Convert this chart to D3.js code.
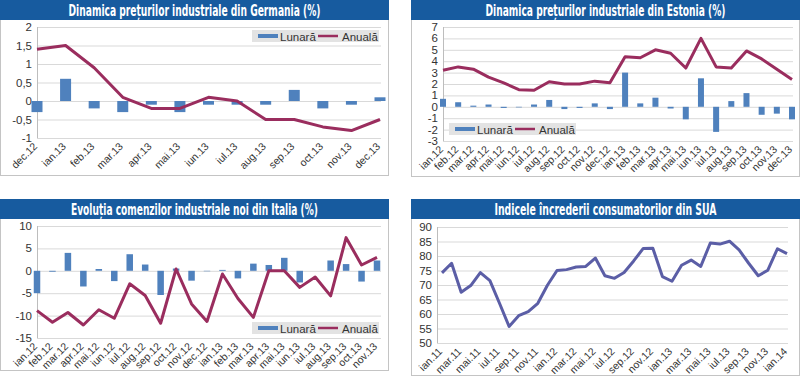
<!DOCTYPE html>
<html lang="ro">
<head>
<meta charset="UTF-8">
<title>Indicatori economici</title>
<script src="https://d3js.org/d3.v7.min.js"></script>
<style>
  body { margin: 0; background: #fff; font-family: "Liberation Sans", Arial, sans-serif; }
  svg text { fill: #333; }
  .title { fill: #fff; font-family: "Liberation Sans Narrow", "DejaVu Sans Condensed", sans-serif; font-weight: bold; font-size: 13px; }
</style>
</head>
<body>
<div id="chart"></div>
<script>
// Germania - dinamica preturilor industriale
const deMonths = ["dec.12", "ian.13", "feb.13", "mar.13", "apr.13", "mai.13", "iun.13", "iul.13", "aug.13", "sep.13", "oct.13", "nov.13", "dec.13"];
const deMonthly = [-0.3, 0.6, -0.2, -0.3, -0.1, -0.3, -0.1, -0.1, -0.1, 0.3, -0.2, -0.1, 0.1];
const deAnnual = [1.4, 1.5, 0.9, 0.1, -0.2, -0.2, 0.1, 0.0, -0.5, -0.5, -0.7, -0.8, -0.5];
const deTicks = [2, 1.5, 1, 0.5, 0, -0.5, -1];

// Estonia
const eeMonths = ["ian.12", "feb.12", "mar.12", "apr.12", "mai.12", "iun.12", "iul.12", "aug.12", "sep.12", "oct.12", "nov.12", "dec.12",
                  "ian.13", "feb.13", "mar.13", "apr.13", "mai.13", "iun.13", "iul.13", "aug.13", "sep.13", "oct.13", "nov.13", "dec.13"];
const eeMonthly = [0.7, 0.4, 0.1, 0.2, -0.1, -0.05, 0.2, 0.6, -0.2, -0.1, 0.3, -0.2,
                   3.0, 0.3, 0.8, -0.15, -1.1, 2.5, -2.2, 0.5, 1.2, -0.7, -0.6, -1.1];
const eeAnnual = [3.2, 3.5, 3.3, 2.6, 2.1, 1.5, 1.45, 2.2, 2.0, 2.0, 2.25, 2.1,
                  4.4, 4.3, 5.0, 4.7, 3.4, 6.0, 3.5, 3.4, 4.9, 4.2, 3.3, 2.4];
const eeTicks = [7, 6, 5, 4, 3, 2, 1, 0, -1, -2, -3];

// Italia - comenzi industriale noi
const itMonths = ["ian.12", "feb.12", "mar.12", "apr.12", "mai.12", "iun.12", "iul.12", "aug.12", "sep.12", "oct.12", "nov.12", "dec.12",
                  "ian.13", "feb.13", "mar.13", "apr.13", "mai.13", "iun.13", "iul.13", "aug.13", "sep.13", "oct.13", "nov.13"];
const itMonthly = [-5.0, -0.2, 4.0, -3.5, 0.4, -2.3, 3.7, 1.4, -5.4, 0.5, -2.2, -0.1,
                   0.2, -1.7, 1.6, 1.3, 2.9, -2.6, 0, 2.3, 1.5, -2.4, 2.3];
const itAnnual = [-8.9, -11.5, -9.3, -12.1, -8.7, -10.6, -2.9, -5.5, -11.7, 0.4, -7.4, -11.3,
                  -0.7, -6.2, -10.4, 0.0, 0.0, -3.7, -1.4, -5.6, 7.4, 1.3, 3.0];
const itTicks = [10, 5, 0, -5, -10, -15];

// SUA - increderea consumatorilor
const usMonths = ["ian.11", "feb.11", "mar.11", "apr.11", "mai.11", "iun.11", "iul.11", "aug.11", "sep.11", "oct.11", "nov.11", "dec.11",
                  "ian.12", "feb.12", "mar.12", "apr.12", "mai.12", "iun.12", "iul.12", "aug.12", "sep.12", "oct.12", "nov.12", "dec.12",
                  "ian.13", "feb.13", "mar.13", "apr.13", "mai.13", "iun.13", "iul.13", "aug.13", "sep.13", "oct.13", "nov.13", "dec.13", "ian.14"];
const usValues = [74.2, 77.5, 67.5, 69.8, 74.3, 71.5, 63.7, 55.7, 59.4, 60.8, 63.7, 69.9,
                  75.0, 75.3, 76.2, 76.4, 79.3, 73.2, 72.3, 74.3, 78.3, 82.6, 82.7, 72.9,
                  71.3, 76.8, 78.6, 76.4, 84.5, 84.1, 85.1, 82.1, 77.5, 73.2, 75.1, 82.5, 80.8];
const usTicks = [90, 85, 80, 75, 70, 65, 60, 55, 50];

const blue = "#4f81bd", wine = "#9a2d5e", titleBlue = "#175b9f", grid = "#d9d9d9";
const fmt = d => String(d).replace(".", ",");

const svg = d3.select("#chart").append("svg").attr("width", 800).attr("height", 376);

function frame(box, title, titleWidth) {
    const g = svg.append("g");
    g.append("rect")
        .attr("x", box.x + 0.5).attr("y", box.y + 0.5)
        .attr("width", box.w - 1).attr("height", box.h - 1)
        .attr("fill", "#fff").attr("stroke", "#c4c4c4");
    g.append("rect")
        .attr("x", box.x).attr("y", box.y)
        .attr("width", box.w).attr("height", 20)
        .attr("fill", titleBlue);
    // titlul: font ingust, intins pe verticala ca in original
    g.append("text").attr("class", "title")
        .attr("transform", `translate(${box.x + box.w / 2},${box.y + 15.5}) scale(1,1.25)`)
        .attr("text-anchor", "middle")
        .attr("textLength", titleWidth).attr("lengthAdjust", "spacingAndGlyphs")
        .text(title);
    return g;
}

function axes(g, x, y, ticks, yFormat, labels, left, right) {
    const [y0, y1] = y.range();
    g.selectAll(".grid").data(ticks).enter().append("line")
        .attr("x1", left).attr("x2", right)
        .attr("y1", d => y(d) + 0.5).attr("y2", d => y(d) + 0.5)
        .attr("stroke", grid);
    g.append("line")
        .attr("x1", left + 0.5).attr("x2", left + 0.5)
        .attr("y1", y1).attr("y2", y0)
        .attr("stroke", "#bdbdbd");
    g.selectAll(".yl").data(ticks).enter().append("text")
        .attr("x", left - 5).attr("y", d => y(d) + 4)
        .attr("text-anchor", "end").attr("font-size", 11.5)
        .text(yFormat);
    g.selectAll(".xl").data(labels).enter().append("text")
        .attr("text-anchor", "end").attr("font-size", 10.5)
        .attr("transform", d => `translate(${x(d) + 1},${y0 + 9}) rotate(-45)`)
        .text(d => d);
}

function legend(g, lx, ly) {
    g.append("rect").attr("x", lx).attr("y", ly).attr("width", 127).attr("height", 12).attr("fill", "#e3e3e3");
    g.append("line").attr("x1", lx + 6).attr("x2", lx + 26).attr("y1", ly + 6).attr("y2", ly + 6)
        .attr("stroke", blue).attr("stroke-width", 4);
    g.append("text").attr("x", lx + 28).attr("y", ly + 10.5).attr("font-size", 11.5).text("Lunară");
    g.append("line").attr("x1", lx + 66).attr("x2", lx + 86).attr("y1", ly + 6).attr("y2", ly + 6)
        .attr("stroke", wine).attr("stroke-width", 2.5);
    g.append("text").attr("x", lx + 90).attr("y", ly + 10.5).attr("font-size", 11.5).text("Anuală");
}

function barLineChart(opt) {
    const g = frame(opt.box, opt.title, opt.titleWidth);
    const x = d3.scalePoint().domain(opt.months).range([opt.left, opt.right]);
    const y = d3.scaleLinear().domain(d3.extent(opt.ticks)).range([opt.bottom, opt.top]);
    axes(g, x, y, opt.ticks, fmt, opt.months, opt.left, opt.gridRight);
    legend(g, opt.legend[0], opt.legend[1]);

    g.selectAll(".bar").data(opt.monthly).enter().append("rect")
        .attr("x", (d, i) => x(opt.months[i]) - opt.barW / 2)
        .attr("y", d => y(Math.max(0, d)))
        .attr("width", opt.barW)
        .attr("height", d => Math.abs(y(d) - y(0)))
        .attr("fill", blue);

    const line = d3.line().x((d, i) => x(opt.months[i])).y(d => y(d));
    g.append("path").datum(opt.annual)
        .attr("d", line).attr("fill", "none")
        .attr("stroke", wine).attr("stroke-width", 3).attr("stroke-linejoin", "round");
}

barLineChart({
    box: {x: 0, y: 0, w: 389, h: 176},
    title: "Dinamica prețurilor industriale din Germania (%)", titleWidth: 252,
    months: deMonths, monthly: deMonthly, annual: deAnnual, ticks: deTicks,
    left: 37, right: 380, gridRight: 381, top: 27, bottom: 138, barW: 11, legend: [252, 30]
});

barLineChart({
    box: {x: 411, y: 0, w: 389, h: 177},
    title: "Dinamica prețurilor industriale din Estonia (%)", titleWidth: 240,
    months: eeMonths, monthly: eeMonthly, annual: eeAnnual, ticks: eeTicks,
    left: 443, right: 792, gridRight: 793, top: 27, bottom: 141, barW: 6, legend: [449, 123]
});

barLineChart({
    box: {x: 0, y: 199, w: 389, h: 172},
    title: "Evoluția comenzilor industriale noi din Italia (%)", titleWidth: 247,
    months: itMonths, monthly: itMonthly, annual: itAnnual, ticks: itTicks,
    left: 37, right: 377, gridRight: 381, top: 226, bottom: 338, barW: 6.5, legend: [252, 322]
});

// SUA - doar linie
(function () {
    const box = {x: 411, y: 199, w: 389, h: 177};
    const g = frame(box, "Indicele încrederii consumatorilor din SUA", 222);
    const x = d3.scalePoint().domain(usMonths).range([442, 787]);
    const y = d3.scaleLinear().domain([50, 90]).range([343, 227]);
    const shown = usMonths.filter((d, i) => i % 2 === 0);
    axes(g, x, y, usTicks, d => d, shown, 437, 788);
    g.append("path").datum(usValues)
        .attr("d", d3.line().x((d, i) => x(usMonths[i])).y(d => y(d)))
        .attr("fill", "none").attr("stroke", "#5b5ea6")
        .attr("stroke-width", 3).attr("stroke-linejoin", "round");
})();
</script>
</body>
</html>
